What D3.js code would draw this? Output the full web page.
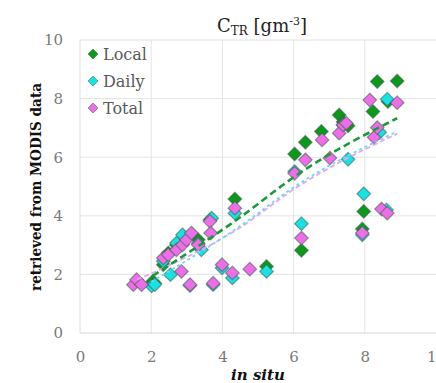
<!DOCTYPE html>
<html><head><meta charset="utf-8">
<script src="https://cdn.jsdelivr.net/npm/d3@7"></script>
<style>
html,body{margin:0;padding:0;background:#fff;overflow:hidden}
</style></head><body>
<svg id="c" width="436" height="383"></svg>
<script>
// ---- data ----
const xTicks = [0, 2, 4, 6, 8, 10];
const yTicks = [0, 2, 4, 6, 8, 10];
const seriesNames = ["Local", "Daily", "Total"];
const localX = [2.04, 2.10, 2.34, 2.48, 2.71, 3.32, 3.65, 4.35, 5.24, 6.03, 6.22, 6.33, 6.78, 7.28, 7.39, 7.53, 7.93, 7.97, 8.23, 8.35, 8.65, 8.91];
const localY = [1.76, 1.70, 2.33, 2.73, 3.00, 3.18, 3.86, 4.57, 2.27, 6.11, 2.82, 6.51, 6.88, 7.44, 7.20, 7.07, 3.55, 4.15, 7.56, 8.58, 7.90, 8.60];
const dailyX = [2.01, 2.10, 2.34, 2.54, 2.71, 2.88, 3.09, 3.32, 3.41, 3.70, 3.74, 3.99, 4.28, 4.35, 5.24, 6.03, 6.22, 7.39, 7.53, 7.93, 7.97, 8.42, 8.61, 8.63];
const dailyY = [1.61, 1.65, 2.45, 1.99, 3.07, 3.35, 1.62, 3.05, 2.84, 3.92, 1.65, 2.22, 1.88, 4.09, 2.10, 5.51, 3.73, 7.10, 5.93, 3.35, 4.75, 6.85, 4.20, 7.98];
const totalX = [1.50, 1.59, 1.73, 2.34, 2.48, 2.71, 2.85, 2.88, 2.99, 3.09, 3.13, 3.32, 3.65, 3.67, 3.74, 3.99, 4.28, 4.35, 4.77, 6.03, 6.22, 6.33, 6.80, 7.02, 7.28, 7.39, 7.48, 7.93, 8.14, 8.26, 8.35, 8.47, 8.63, 8.91];
const totalY = [1.65, 1.82, 1.65, 2.56, 2.67, 2.84, 2.10, 3.01, 3.18, 1.65, 3.41, 3.01, 3.81, 3.41, 1.70, 2.33, 2.05, 4.26, 2.18, 5.45, 3.24, 5.91, 6.59, 5.97, 6.82, 7.10, 7.16, 3.41, 7.95, 6.68, 7.01, 4.23, 4.09, 7.86];
// trendlines
const localTrendX = [2.04, 4.5, 6.1, 8.91];
const localTrendY = [1.95, 3.95, 5.40, 7.33];
const dailyTrendX = [2.01, 4.5, 6.1, 8.90];
const dailyTrendY = [1.75, 3.65, 5.05, 6.87];
const totalTrendX = [1.60, 4.5, 6.1, 8.91];
const totalTrendY = [1.82, 3.60, 4.98, 6.80];

const FONT = "'DejaVu Serif',serif";
const series = [
  {name: seriesNames[0], xs: localX, ys: localY, tx: localTrendX, ty: localTrendY, fill: "#0a9a1a", trend: {color: "#1a9a3a", width: 2.6, dash: "7,4"}},
  {name: seriesNames[1], xs: dailyX, ys: dailyY, tx: dailyTrendX, ty: dailyTrendY, fill: "#16e3e3", trend: {color: "#6fd8f0", width: 1.8, dash: "3,3"}},
  {name: seriesNames[2], xs: totalX, ys: totalY, tx: totalTrendX, ty: totalTrendY, fill: "#ee6eea", trend: {color: "#e9a6ee", width: 1.8, dash: "5,3"}}
];

const svg = d3.select("#c");
const x = d3.scaleLinear().domain([0, 10]).range([80, 436]);
const y = d3.scaleLinear().domain([0, 10]).range([333, 40]);

// grid
const g = svg.append("g");
g.selectAll(".vg").data(xTicks.filter(d => d > 0 && d < 10)).enter().append("line")
  .attr("x1", d => x(d)).attr("x2", d => x(d)).attr("y1", y(0)).attr("y2", y(10))
  .attr("stroke", "#e4e4e4").attr("stroke-width", 1);
g.selectAll(".hg").data(yTicks.filter(d => d > 0)).enter().append("line")
  .attr("x1", x(0)).attr("x2", x(10)).attr("y1", d => y(d)).attr("y2", d => y(d))
  .attr("stroke", "#e4e4e4").attr("stroke-width", 1);
g.append("line").attr("x1", x(0)).attr("x2", x(0)).attr("y1", y(0)).attr("y2", y(10)).attr("stroke", "#e0e0e0");
g.append("line").attr("x1", x(0)).attr("x2", x(10)).attr("y1", y(0)).attr("y2", y(0)).attr("stroke", "#d6d6d6");

// tick labels
const xAxis = d3.axisBottom(x).tickValues(xTicks).tickSize(0).tickPadding(0).tickFormat(d3.format("d"));
const ax = svg.append("g").attr("transform", `translate(0,${y(0) + 18})`).call(xAxis);
ax.attr("font-family", FONT).attr("font-size", null);
ax.select(".domain").remove();
ax.selectAll("text").attr("fill", "#7a7a7a").attr("font-family", FONT).style("font-size", "15px").attr("dy", "0.71em");

const yAxis = d3.axisLeft(y).tickValues(yTicks).tickSize(0).tickPadding(0).tickFormat(d3.format("d"));
const ay = svg.append("g").attr("transform", `translate(${x(0) - 17},0)`).call(yAxis);
ay.attr("font-family", FONT).attr("font-size", null);
ay.select(".domain").remove();
ay.selectAll("text").attr("fill", "#7a7a7a").attr("font-family", FONT).style("font-size", "15px");

function diamondPath(s) { return `M0,${-s}L${s},0L0,${s}L${-s},0Z`; }

series.forEach(s => {
  svg.append("g").selectAll("path").data(s.xs.map((v, i) => [v, s.ys[i]])).enter().append("path")
    .attr("d", diamondPath(6.8))
    .attr("transform", d => `translate(${x(d[0])},${y(d[1])})`)
    .attr("fill", s.fill).attr("stroke", "#3d5a4a").attr("stroke-opacity", 0.55).attr("stroke-width", 1.2);
});
const line = d3.line().x(d => x(d[0])).y(d => y(d[1])).curve(d3.curveMonotoneX);
series.slice().reverse().forEach(s => {
  svg.append("path").attr("d", line(s.tx.map((v, i) => [v, s.ty[i]]))).attr("fill", "none")
    .attr("stroke", s.trend.color).attr("stroke-width", s.trend.width)
    .attr("stroke-dasharray", s.trend.dash);
});

// legend
const lg = svg.append("g");
series.forEach((s, i) => {
  const cy = 54 + i * 27;
  lg.append("path").attr("d", diamondPath(5)).attr("transform", `translate(93,${cy})`)
    .attr("fill", s.fill).attr("stroke", "#3d5a4a").attr("stroke-opacity", 0.5).attr("stroke-width", 1);
  lg.append("text").attr("x", 103).attr("y", cy + 6).attr("fill", "#595959")
    .attr("font-family", FONT).style("font-size", "16px").text(s.name);
});

// title
const t = svg.append("text").attr("x", 262).attr("y", 32).attr("text-anchor", "middle")
  .attr("fill", "#222").attr("font-family", FONT).style("font-size", "18px");
t.append("tspan").text("C");
t.append("tspan").text("TR").style("font-size", "12px").attr("dy", "3");
t.append("tspan").text(" [gm").attr("dy", "-3");
t.append("tspan").text("-3").style("font-size", "11px").attr("dy", "-7");
t.append("tspan").text("]").attr("dy", "7");

// axis titles
svg.append("text").attr("transform", `translate(41,187) rotate(-90)`).attr("text-anchor", "middle")
  .attr("fill", "#111").attr("font-family", FONT).style("font-size", "14px").style("font-weight", "bold")
  .attr("textLength", 208).attr("lengthAdjust", "spacingAndGlyphs")
  .text("retrieved from MODIS data");
svg.append("text").attr("x", 258).attr("y", 380).attr("text-anchor", "middle")
  .attr("fill", "#111").attr("font-family", FONT).style("font-size", "15px").style("font-weight", "bold").style("font-style", "italic")
  .text("in situ");
</script>
</body></html>
